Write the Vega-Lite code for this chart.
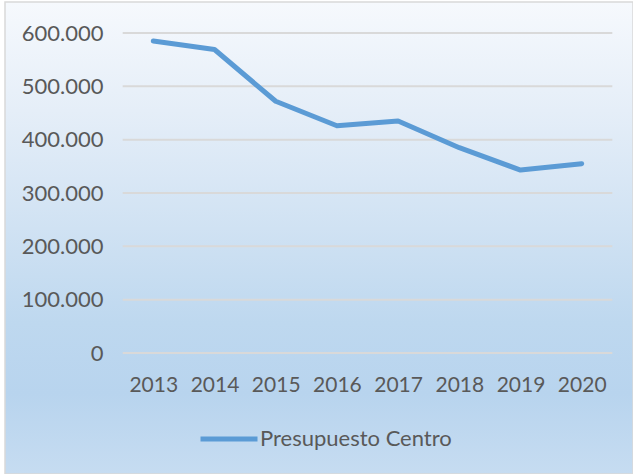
{
  "$schema": "https://vega.github.io/schema/vega-lite/v6.json",
  "width": 628,
  "height": 472,
  "autosize": {"type": "none"},
  "padding": {"left": 5, "top": 2, "right": 0, "bottom": 0},
  "background": "#FFFFFF",
  "config": {
    "view": {
      "stroke": "#D9D9D9",
      "strokeWidth": 1.5,
      "fill": {
        "gradient": "linear",
        "x1": 0, "y1": 0, "x2": 0, "y2": 1,
        "stops": [
          {"offset": 0, "color": "#F6F9FD"},
          {"offset": 0.23, "color": "#E5EEF8"},
          {"offset": 0.48, "color": "#D0E2F3"},
          {"offset": 0.68, "color": "#BED8EF"},
          {"offset": 0.83, "color": "#B8D4EE"},
          {"offset": 1, "color": "#C6DCF1"}
        ]
      }
    },
    "font": "Lato",
    "axis": {"labelFont": "Lato", "labelFontSize": 21, "labelColor": "#595959", "domain": false, "ticks": false, "grid": false, "title": null},
    "legend": {"labelFont": "Lato", "labelFontSize": 22, "labelColor": "#595959", "labelLimit": 400}
  },
  "datasets": {
    "serie": [
      {"anio": 2013, "valor": 585000, "serie": "Presupuesto Centro"},
      {"anio": 2014, "valor": 569000, "serie": "Presupuesto Centro"},
      {"anio": 2015, "valor": 472000, "serie": "Presupuesto Centro"},
      {"anio": 2016, "valor": 426000, "serie": "Presupuesto Centro"},
      {"anio": 2017, "valor": 435000, "serie": "Presupuesto Centro"},
      {"anio": 2018, "valor": 385000, "serie": "Presupuesto Centro"},
      {"anio": 2019, "valor": 343000, "serie": "Presupuesto Centro"},
      {"anio": 2020, "valor": 355000, "serie": "Presupuesto Centro"}
    ],
    "grid": [
      {"v": 0}, {"v": 100000}, {"v": 200000}, {"v": 300000}, {"v": 400000}, {"v": 500000}, {"v": 600000}
    ]
  },
  "layer": [
    {
      "data": {"name": "grid"},
      "mark": {"type": "rule", "color": "#D9D9D9", "strokeWidth": 2},
      "encoding": {
        "y": {
          "field": "v", "type": "quantitative",
          "scale": {"domain": [-226875, 658125], "nice": false, "zero": false},
          "axis": {"values": [0, 100000, 200000, 300000, 400000, 500000, 600000], "labelExpr": "replace(format(datum.value, ','), ',', '.')", "orient": "left", "offset": -98, "labelPadding": 0, "labelFontSize": 22, "labelFlush": false, "labelOverlap": false}
        },
        "x": {
          "datum": 2012.5, "type": "quantitative",
          "scale": {"domain": [2010.577, 2020.838], "nice": false, "zero": false},
          "axis": {"values": [2013, 2014, 2015, 2016, 2017, 2018, 2019, 2020], "format": "d", "orient": "bottom", "offset": -89, "labelPadding": 0, "labelBaseline": "middle", "labelFlush": false, "labelOverlap": false}
        },
        "x2": {"datum": 2020.5}
      }
    },
    {
      "data": {"name": "serie"},
      "mark": {"type": "line", "strokeWidth": 5, "strokeCap": "round", "strokeJoin": "round"},
      "encoding": {
        "x": {
          "field": "anio", "type": "quantitative",
          "axis": {"values": [2013, 2014, 2015, 2016, 2017, 2018, 2019, 2020], "format": "d", "orient": "bottom", "offset": -89, "labelPadding": 0, "labelBaseline": "middle", "labelFlush": false, "labelOverlap": false}
        },
        "y": {
          "field": "valor", "type": "quantitative",
          "axis": {"values": [0, 100000, 200000, 300000, 400000, 500000, 600000], "labelExpr": "replace(format(datum.value, ','), ',', '.')", "orient": "left", "offset": -98, "labelPadding": 0, "labelFontSize": 22, "labelFlush": false, "labelOverlap": false}
        },
        "color": {
          "field": "serie", "type": "nominal",
          "scale": {"range": ["#5B9BD5"]},
          "legend": {"title": null, "orient": "none", "legendX": 193, "legendY": 406, "symbolType": "stroke", "symbolSize": 3249, "symbolStrokeWidth": 5, "symbolStrokeColor": "#5B9BD5", "labelOffset": 0, "padding": 0}
        }
      }
    }
  ],
  "resolve": {"scale": {"x": "shared", "y": "shared"}}
}
